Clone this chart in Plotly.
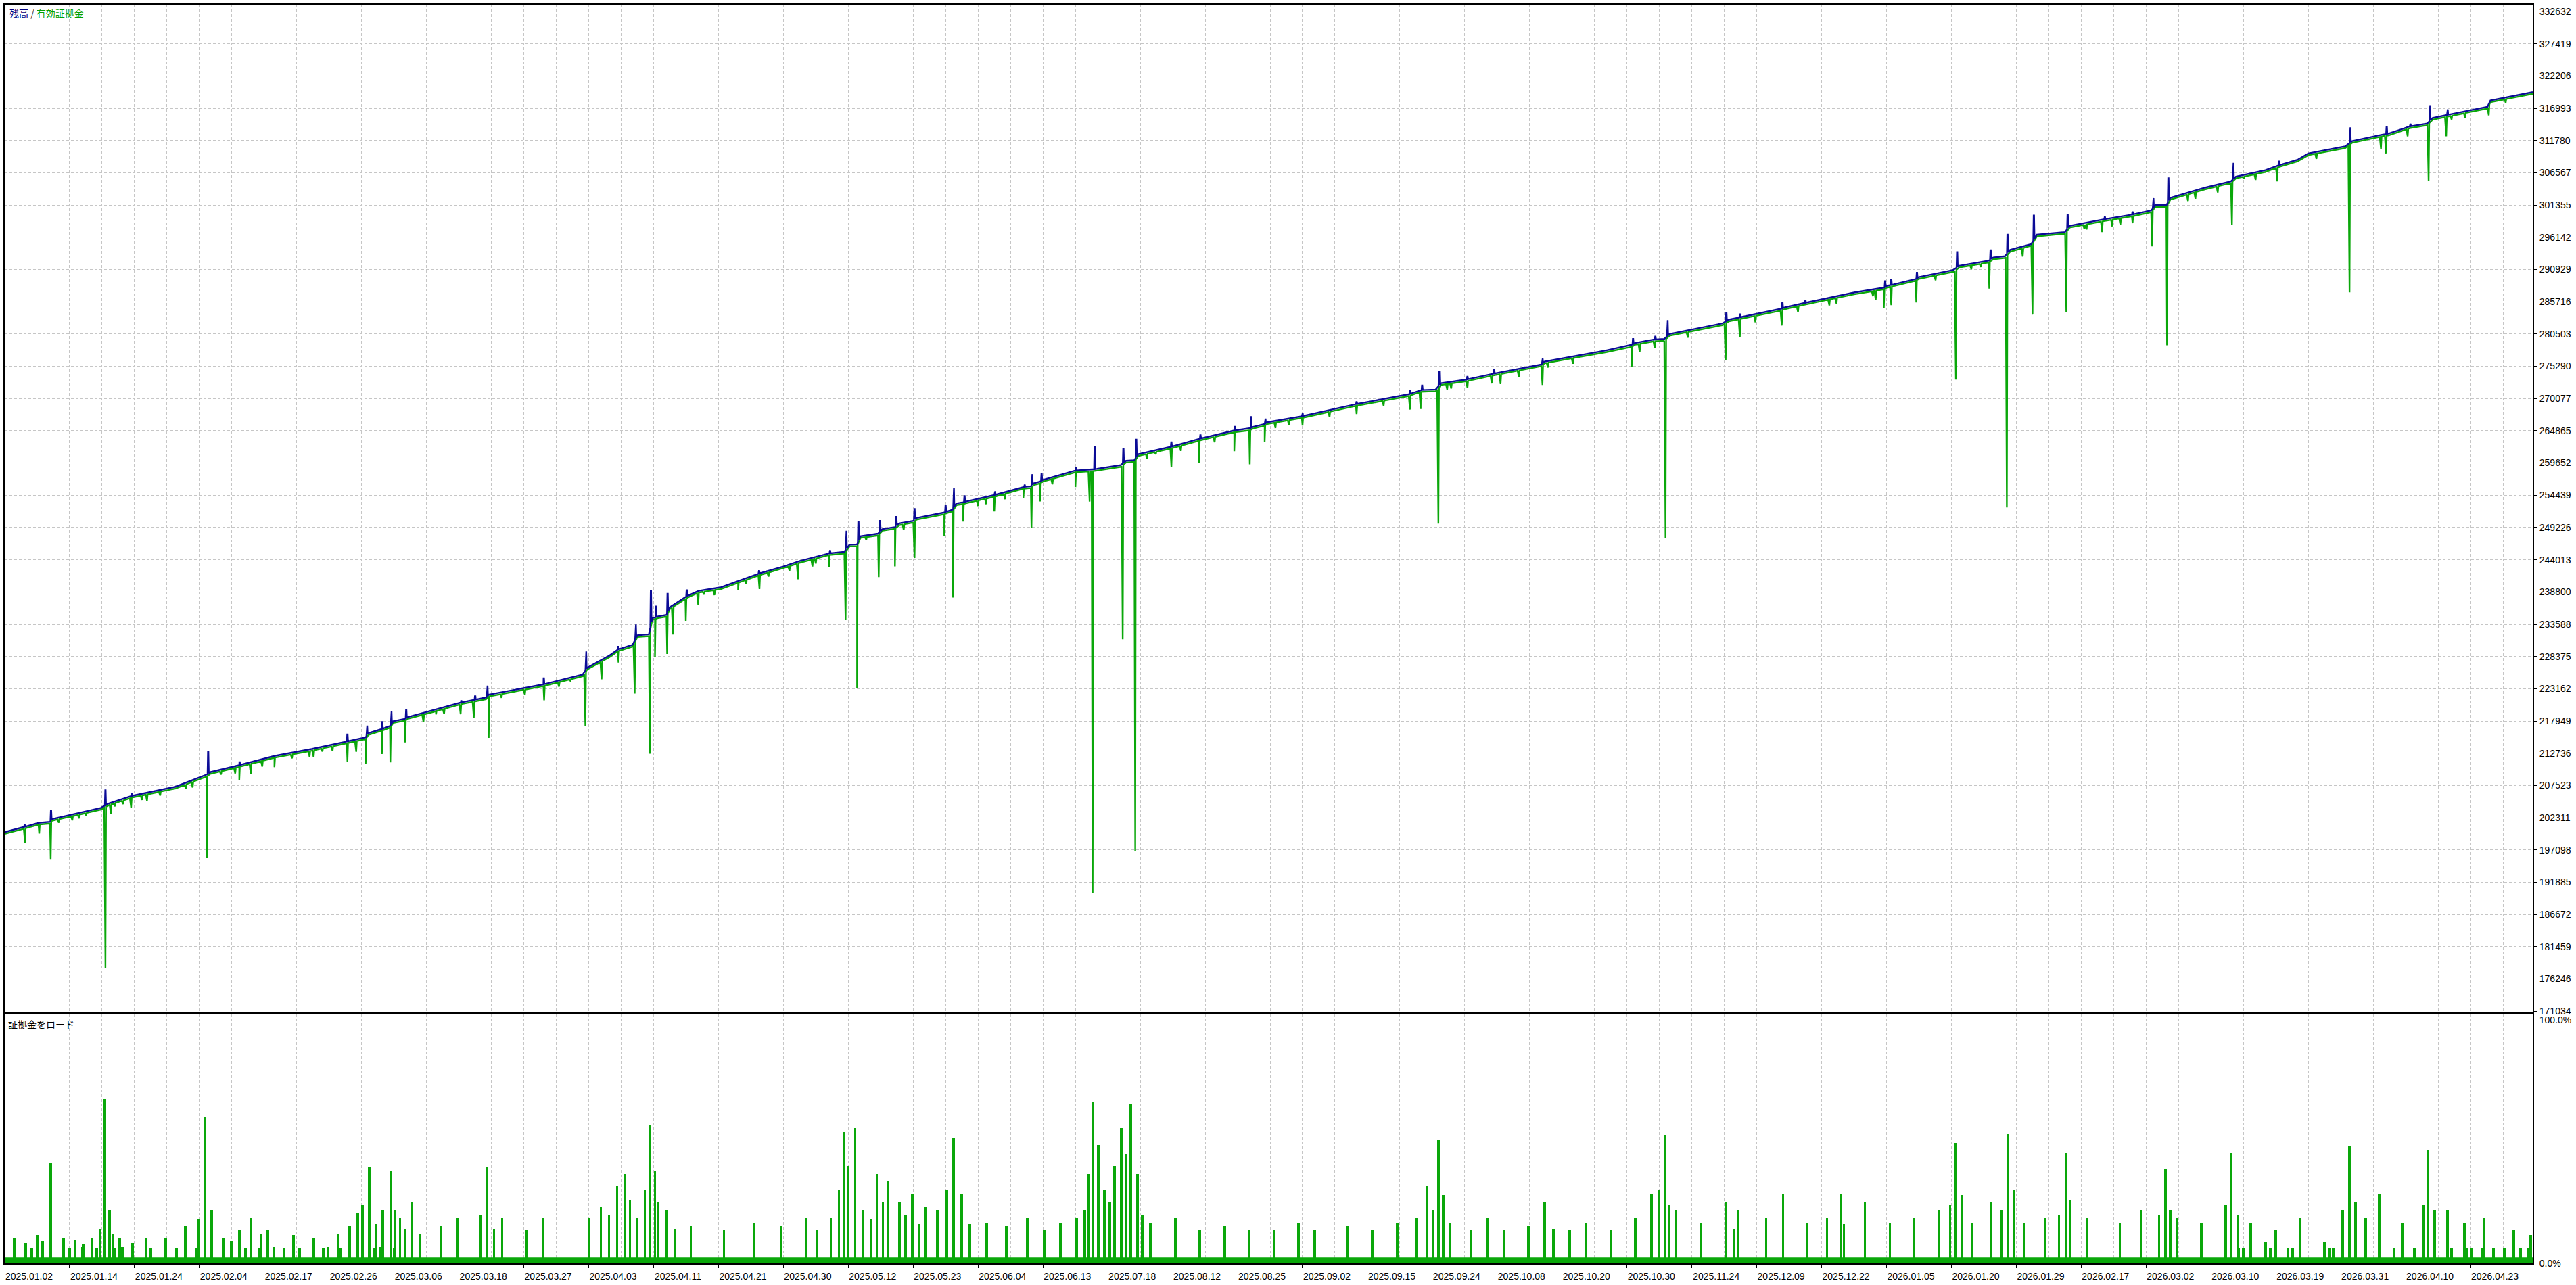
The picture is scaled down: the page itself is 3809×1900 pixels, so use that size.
import numpy as np
import plotly.graph_objects as go

# ---------------- data ----------------
# balance trend vertices (x = position along the test, V = balance)
trend_x = [0, 28, 50, 67, 70, 142, 153, 188, 252, 289, 299, 304, 347, 399, 454, 506, 534, 538, 558, 570,
           575, 592, 597, 638, 675, 696, 712, 716, 797, 855, 862, 895, 907, 929, 936, 953, 958, 962, 966.6, 979,
           984, 1007, 1011, 1026.6, 1060, 1085, 1115, 1152, 1176.6, 1219.5, 1242, 1250, 1261, 1266, 1292, 1299,
           1317, 1323.5, 1344, 1349, 1390, 1397, 1402, 1408, 1418, 1422, 1464, 1507, 1518, 1522.5, 1532, 1536.6,
           1584, 1608, 1616, 1651, 1659, 1671, 1677, 1724.5, 1767, 1819, 1841, 1847, 1864, 1868, 1919, 1999,
           2076, 2095, 2117, 2125, 2162, 2203, 2273, 2278, 2369, 2407, 2412, 2439, 2455, 2463, 2541, 2551, 2627,
           2633, 2662.5, 2736, 2780, 2785, 2789, 2794, 2827, 2832, 2882, 2892, 2935, 2942, 2959, 2967, 2998,
           3006.5, 3048, 3055, 3105, 3147, 3175.5, 3182, 3198, 3204, 3255, 3293.5, 3301, 3344.5, 3363.7, 3392,
           3408, 3462.5, 3473, 3517, 3527, 3558, 3584, 3592, 3673, 3677.5, 3740]
trend_v = [200000, 200800, 201480, 201660, 202110, 203900, 204590, 205850, 207300, 208870, 209250, 209680,
           210810, 212300, 213420, 214640, 215310, 215990, 216660, 217150, 217930, 218300, 218600, 219820,
           220940, 221400, 221750, 222200, 223870, 225450, 226580, 228560, 229500, 230270, 231800, 231950,
           234570, 234700, 234860, 235100, 236330, 237980, 238220, 238985, 239574, 240575, 241753, 242932,
           243815, 245052, 245300, 246466, 246500, 247821, 248234, 249000, 249294, 249883, 250296, 250767,
           251650, 251945, 252100, 253123, 253300, 253418, 254478, 255774, 255892, 256363, 256658, 256952,
           258425, 258602, 258700, 259309, 260016, 260100, 261076, 262254, 263550, 264905, 265200, 265494,
           265958, 266249, 267219, 269155, 270713, 271440, 271537, 272556, 273138, 274108, 275564, 276049,
           277843, 278717, 279050, 279590, 279687, 280511, 282213, 282840, 284538, 284780, 285508, 287206,
           288000, 288300, 288400, 288510, 289385, 289700, 290820, 291538, 292355, 292871, 293076, 294102,
           295025, 296564, 296974, 297999, 299025, 299795, 300461, 301333, 301333, 302512, 304153, 305179,
           305948, 306973, 307742, 308665, 309691, 310820, 311691, 312716, 312900, 314050, 314512, 315435,
           317230, 318255, 319600]

# short upward balance spikes
spike_x = [29.5, 68.5, 149, 188.5, 301, 347.5, 507, 536, 558.5, 572, 594, 675.5, 696, 714, 797.5, 860, 907.5,
           933.5, 956, 963.5, 980.7, 1009, 1116, 1221, 1245, 1263, 1295, 1319, 1346, 1392, 1404, 1420, 1465,
           1509, 1520, 1534, 1584.5, 1612.5, 1655, 1674, 1726, 1769, 1820, 1844, 1865, 1920, 2000, 2079, 2097,
           2122, 2164, 2203.5, 2275, 2409, 2442, 2460, 2547, 2567, 2630, 2664, 2782, 2791, 2829, 2888.5, 2938,
           2963, 3002, 3052, 3107, 3148, 3178.7, 3201, 3297, 3364.5, 3470, 3524, 3559, 3588, 3614]
spike_v = [201120, 203470, 206750, 206170, 212925, 211300, 215770, 217200, 217790, 219500, 219730, 221200,
           222070, 223650, 224860, 229190, 229950, 233560, 238985, 236450, 238514, 239100, 242200, 245460,
           248705, 250178, 250296, 250943, 252240, 252711, 255656, 254301, 255070, 256070, 257836, 257836,
           258840, 262254, 261959, 263432, 263000, 264140, 265500, 267085, 266830, 267700, 269500, 271300,
           272168, 274496, 273600, 274700, 276534, 279687, 280080, 282739, 283956, 283800, 285605, 285900,
           289030, 289280, 290410, 293741, 294050, 296564, 299641, 299795, 299400, 300200, 302461, 305692,
           308153, 308400, 313896, 313999, 314500, 317486, 316800]

# equity drawdown minima
dip_x = [30, 51, 68, 100, 120.5, 149, 157, 163, 187, 203, 210.5, 268, 278, 299, 341, 347, 364, 381, 399, 451,
         457, 485, 507, 520, 534, 558, 570.5, 592.5, 619.5, 638, 674.5, 694, 716, 769.5, 798, 837, 859, 883,
         908, 932, 954.4, 962, 980, 988.7, 1007.6, 1026, 1034.6, 1085, 1097, 1116.6, 1161, 1173.6, 1195,
         1219.5, 1244, 1261, 1274.6, 1293, 1317, 1346, 1390, 1403, 1418, 1452, 1464, 1507, 1519, 1532, 1584,
         1605, 1609.5, 1654, 1672.5, 1703, 1726, 1767, 1819, 1842, 1864, 1900, 1920, 2000, 2079, 2094.8, 2121,
         2134, 2164, 2200, 2213, 2275, 2283, 2407, 2418.8, 2441, 2457, 2546, 2567, 2629, 2653, 2699.4, 2764,
         2768, 2780, 2791, 2828, 2856.6, 2886.6, 2909.5, 2923.6, 2936, 2962, 2985.5, 3000, 3050, 3076.7, 3103,
         3118, 3148, 3177, 3199, 3241, 3274, 3295, 3312.6, 3362, 3469, 3515.5, 3523, 3555, 3586, 3612, 3620,
         3675, 3721,
         80, 110, 175, 230, 320, 425, 470, 650, 735, 820, 1050, 1130, 1200, 1330, 1440, 1480, 1550, 1690,
         1740, 1790, 1880, 1960, 2040, 2140, 2240, 2320, 2490, 2590, 2710, 3080, 3130, 3230, 3330, 3420,
         3640, 3700]
dip_v = [198285, 199770, 195630, 201890, 202700, 178010, 202925, 204140, 203960, 205180, 205040, 206980, 207200,
         195850, 209460, 208330, 209370, 210580, 210490, 212160, 212070, 213060, 211390, 212970, 211080, 212610,
         211260, 214500, 217790, 219010, 219050, 218470, 215220, 222210, 221300, 224410, 217200, 224680, 227390,
         222390, 212650, 228260, 228790, 231920, 234150, 236750, 238396, 239160, 240160, 239280, 242220, 240870,
         242930, 242810, 234270, 223200, 247232, 241220, 242930, 244290, 247820, 237920, 250180, 253005, 251830,
         254007, 249180, 253420, 255770, 253420, 190090, 231150, 196980, 261076, 259010, 259720, 261550, 259430,
         263050, 265765, 265720, 267560, 268290, 268384, 249850, 271537, 271780, 272507, 272410, 272270, 275078,
         275180, 277602, 278233, 247520, 276290, 280030, 281870, 284052, 285120, 286616, 285990, 284680, 285170,
         285590, 289179, 273130, 290975, 291333, 287850, 252460, 293025, 283640, 284000, 297486, 296970, 297897,
         298410, 294670, 278670, 302358, 303383, 298100, 305589, 305180, 287230, 310410, 309690, 312460, 305180,
         312460, 315178, 315850, 318922,
         201500, 202200, 204500, 205900, 209300, 211900, 213000, 219100, 221700, 223500, 238300, 241300, 243400,
         248800, 252700, 253800, 256200, 260300, 261600, 263000, 265300, 267100, 268900, 271700, 273600, 275700,
         279900, 282400, 285400, 297400, 298200, 302000, 305400, 308800, 315400, 317900]

# value-axis labels
y_labels = ["332632", "327419", "322206", "316993", "311780", "306567", "301355", "296142", "290929",
            "285716", "280503", "275290", "270077", "264865", "259652", "254439", "249226", "244013",
            "238800", "233588", "228375", "223162", "217949", "212736", "207523", "202311", "197098",
            "191885", "186672", "181459", "176246", "171034"]

# date labels (one per 96 positions)
date_labels = ["2025.01.02", "2025.01.14", "2025.01.24", "2025.02.04", "2025.02.17", "2025.02.26",
               "2025.03.06", "2025.03.18", "2025.03.27", "2025.04.03", "2025.04.11", "2025.04.21",
               "2025.04.30", "2025.05.12", "2025.05.23", "2025.06.04", "2025.06.13", "2025.07.18",
               "2025.08.12", "2025.08.25", "2025.09.02", "2025.09.15", "2025.09.24", "2025.10.08",
               "2025.10.20", "2025.10.30", "2025.11.24", "2025.12.09", "2025.12.22", "2026.01.05",
               "2026.01.20", "2026.01.29", "2026.02.17", "2026.03.02", "2026.03.10", "2026.03.19",
               "2026.03.31", "2026.04.10", "2026.04.23"]

# margin load (%)
load_x = [14, 31, 40, 48, 68, 87, 96, 104, 115, 129, 136, 148, 155, 163, 170, 174, 189, 209, 216, 238, 254,
          267, 283, 296, 306, 323, 347, 356, 364, 377, 389, 398, 413, 427, 436, 457, 471, 478, 497, 510, 522,
          539, 547, 555, 559, 571, 576, 585, 602, 646, 670, 714, 736, 772, 797, 865, 882, 906, 918, 935, 955,
          967, 979, 1015, 1064, 1108, 1149, 1185, 1202, 1222, 1241, 1258, 1270, 1290, 1307, 1324, 1343, 1363,
          1380, 1404, 1416, 1453, 1482, 1513, 1538, 1562, 1586, 1603, 1610, 1618, 1635, 1652, 1666, 1676, 1695,
          1732, 1768, 1805, 1841, 1878, 1914, 1938, 1987, 2023, 2060, 2089, 2104, 2121, 2138, 2169, 2193, 2218,
          2254, 2278, 2315, 2339, 2376, 2412, 2436, 2456, 2473, 2509, 2546, 2565, 2606, 2631, 2667, 2696, 2716,
          2752, 2789, 2825, 2861, 2886, 2910, 2939, 2963, 2988, 3019, 3049, 3080, 3129, 3160, 3197, 3214, 3250,
          3294, 3305, 3312, 3323, 3345, 3352, 3360, 3378, 3385, 3396, 3432, 3440, 3445, 3469, 3493, 3513, 3535,
          3547, 3565, 3585, 3614, 3620, 3639, 3643, 3650, 3665, 3668, 3682, 3698, 3712, 3722, 3733, 3737,
          56, 116, 141, 160, 287, 335, 379, 493, 529, 549, 578, 593, 614, 704, 724, 894, 925, 947, 962, 991,
          1234, 1248, 1282, 1299, 1333, 1353, 1394, 1428, 1598, 1627, 1642, 1659, 1683, 2113, 2128, 2291, 2448,
          2463, 2558, 2721, 2878, 2895, 2954, 2973, 3039, 3056, 3187, 3204, 3286, 3304, 3459, 3478, 3578, 3595]
load_pct = [10.4, 8.4, 6.0, 11.7, 41.3, 10.4, 6.0, 9.7, 6.5, 10.4, 6.0, 67.4, 21.8, 6.0, 10.4, 6.5, 8.4, 10.4,
            6.0, 10.4, 6.0, 15.1, 6.0, 60.1, 21.8, 10.4, 13.8, 6.0, 18.5, 6.0, 13.8, 6.5, 6.0, 11.7, 6.0, 10.4,
            6.0, 6.5, 6.0, 15.1, 20.5, 39.3, 6.0, 6.5, 21.8, 37.9, 6.0, 18.5, 25.2, 15.1, 18.5, 39.3, 18.5, 13.8,
            18.5, 18.5, 23.2, 31.9, 36.6, 18.5, 56.7, 25.2, 21.8, 15.1, 13.8, 16.4, 15.1, 18.5, 13.8, 18.5, 54.0,
            55.4, 21.8, 36.6, 33.9, 25.2, 28.5, 23.2, 21.8, 51.3, 28.5, 16.4, 15.1, 18.5, 13.8, 16.4, 18.5, 36.6,
            66.1, 48.7, 25.2, 55.4, 65.4, 36.6, 16.4, 18.5, 13.8, 15.1, 13.8, 13.8, 16.4, 13.8, 15.1, 13.8, 16.4,
            18.5, 31.9, 50.7, 16.4, 13.8, 18.5, 13.8, 15.1, 25.2, 13.8, 16.4, 13.8, 18.5, 28.5, 52.7, 21.8, 16.4,
            25.2, 21.8, 18.5, 28.5, 16.4, 18.5, 28.5, 25.2, 16.4, 18.5, 21.8, 49.3, 16.4, 25.2, 53.4, 16.4, 18.5,
            45.3, 18.5, 16.4, 21.8, 38.6, 18.5, 16.4, 45.3, 6.0, 6.0, 16.4, 8.5, 6.0, 13.8, 6.0, 6.0, 18.5, 8.5,
            6.0, 6.0, 48.0, 18.5, 28.5, 6.0, 16.4, 6.0, 46.6, 21.8, 6.0, 16.4, 6.0, 6.0, 6.0, 18.5, 6.0, 6.0,
            13.8, 6.0, 6.0, 11.7,
            9, 8, 14, 12, 18, 9, 12, 12, 24, 16, 22, 14, 12, 20, 14, 20, 26, 30, 38, 14,
            30, 40, 18, 25, 20, 16, 30, 16, 22, 30, 40, 45, 20, 22, 28, 14, 30,
            24, 14, 16, 24, 28, 22, 30, 20, 26, 20, 22, 24, 20, 22, 25, 24, 22]
base_load = 2.4

# ---------------- build line vertices ----------------
tx = np.array(trend_x, float)
tv = np.array(trend_v, float)

bx, bv = list(tx), list(tv)
for sx, sv in zip(spike_x, spike_v):
    for d in (-0.9, 0.9):
        bx.append(sx + d)
        bv.append(float(np.interp(sx + d, tx, tv)))
    bx += [sx - 0.3, sx + 0.3]
    bv += [sv, sv]
o = np.argsort(bx, kind="stable")
bal_x = np.array(bx)[o]
bal_v = np.array(bv)[o]

gap = 280.0
ex, ev = list(tx), list(tv - gap)
for dx, dv in zip(dip_x, dip_v):
    ex += [dx - 1.8, dx, dx + 0.9]
    ev += [float(np.interp(dx - 1.8, tx, tv)) - gap, dv, float(np.interp(dx + 0.9, tx, tv)) - gap]
o = np.argsort(ex, kind="stable")
eq_x = np.array(ex)[o]
eq_v = np.array(ev)[o]

XMAX = trend_x[-1]
major = [96 * k for k in range(len(date_labels))]
minor = [48 + 96 * k for k in range(len(date_labels)) if 48 + 96 * k < XMAX]
y_vals = [int(s) for s in y_labels]

BLUE = "#0b0b96"
GREEN = "#0aa70a"
GRID = "#c6c6c6"
DASH = "4px,3px"
TICKFONT = dict(family="Liberation Sans, Arial, sans-serif", size=14, color="black")

fig = go.Figure()
fig.add_trace(go.Scatter(x=eq_x, y=eq_v, mode="lines", line=dict(color=GREEN, width=2.4),
                         xaxis="x", yaxis="y", hoverinfo="skip"))
fig.add_trace(go.Scatter(x=bal_x, y=bal_v, mode="lines", line=dict(color=BLUE, width=2.4),
                         xaxis="x", yaxis="y", hoverinfo="skip"))
fig.add_trace(go.Scatter(x=[0, XMAX], y=[base_load, base_load], mode="none", fill="tozeroy",
                         fillcolor=GREEN, xaxis="x2", yaxis="y2", hoverinfo="skip"))
fig.add_trace(go.Bar(x=load_x, y=load_pct, width=3.6, marker=dict(color=GREEN, line=dict(width=0)),
                     xaxis="x2", yaxis="y2", hoverinfo="skip"))

H0, H1 = 5, 1877
def yfrac(Y):
    return (H1 - Y) / (H1 - H0)

common_x = dict(range=[0, XMAX], showgrid=True, gridcolor=GRID, griddash=DASH, gridwidth=1,
                minor=dict(tickvals=minor, showgrid=True, gridcolor=GRID, griddash=DASH, gridwidth=1, ticks=""),
                showline=True, linecolor="black", linewidth=2, mirror=True, zeroline=False)

fig.update_layout(
    width=3809, height=1900,
    margin=dict(l=5, r=64, t=5, b=23),
    paper_bgcolor="white", plot_bgcolor="white",
    showlegend=False, bargap=0,
    xaxis=dict(domain=[0, 1], anchor="y", tickvals=major, showticklabels=False, ticks="", **common_x),
    xaxis2=dict(domain=[0, 1], anchor="y2", tickvals=major, ticktext=date_labels, ticks="outside",
                ticklen=5, tickcolor="black", ticklabelshift=36, tickfont=TICKFONT, **common_x),
    yaxis=dict(domain=[yfrac(1503), 1], anchor="x", side="right", range=[170931, 333719],
               tickvals=y_vals, ticktext=y_labels, ticks="outside", ticklen=5, tickcolor="black",
               tickfont=TICKFONT, showgrid=True, gridcolor=GRID, griddash=DASH, gridwidth=1,
               showline=True, linecolor="black", linewidth=2, mirror=True, zeroline=False),
    yaxis2=dict(domain=[0, yfrac(1506)], anchor="x2", side="right", range=[0, 102.5],
                tickvals=[0, 100], ticktext=["0.0%", "100.0%"], ticks="outside", ticklen=5,
                tickcolor="rgba(0,0,0,0)", tickfont=TICKFONT, showgrid=False,
                showline=True, linecolor="black", linewidth=2, mirror=True, zeroline=False),
    annotations=[
        dict(xref="paper", yref="paper", x=(10 - 5) / XMAX, y=yfrac(17), xanchor="left", yanchor="middle",
             showarrow=False,
             text='<span style="color:#000080">残高</span><span style="color:#333333"> / </span>'
                  '<span style="color:#00a000">有効証拠金</span>',
             font=dict(family="Noto Sans CJK JP", size=14)),
        dict(xref="paper", yref="paper", x=(8 - 5) / XMAX, y=yfrac(1521), xanchor="left", yanchor="middle",
             showarrow=False, text="証拠金をロード",
             font=dict(family="Noto Sans CJK JP", size=14, color="black")),
    ],
)

fig.write_html("out.html", config={"displayModeBar": False},
               post_script="document.body.style.margin='0';document.body.style.overflow='hidden';")
